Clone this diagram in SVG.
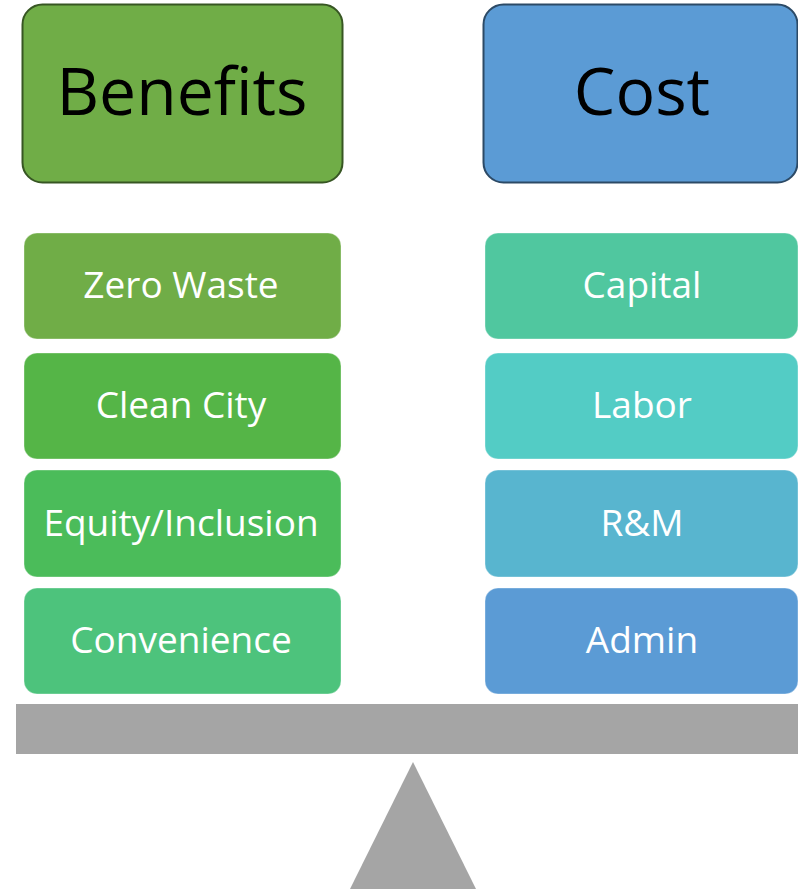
<svg xmlns="http://www.w3.org/2000/svg" width="798" height="889" viewBox="0 0 798 889">
<style>
.hdr{font-family:"Open Sans","Liberation Sans",sans-serif;font-size:66px;fill:#000;text-anchor:middle}
.item{font-family:"Open Sans","Liberation Sans",sans-serif;font-size:37px;fill:#fff;text-anchor:middle}
.box{stroke:#ffffff;stroke-opacity:0.35;stroke-width:1}
</style>
<rect width="798" height="889" fill="#fff"/>
<g id="benefits">
<rect x="22.5" y="4.5" width="320" height="178" rx="20" fill="#70AD47" stroke="#375623" stroke-width="2"/>
<text class="hdr" x="182" y="115">Benefits</text>
</g>
<g id="cost">
<rect x="483.5" y="4.5" width="314" height="178" rx="20" fill="#5B9BD5" stroke="#2C4A66" stroke-width="2"/>
<text class="hdr" x="642" y="115">Cost</text>
</g>
<g id="zero-waste">
<rect class="box" x="24" y="233" width="317" height="106" rx="13" fill="#70AD47"/>
<text class="item" x="181" y="298">Zero Waste</text>
</g>
<g id="clean-city">
<rect class="box" x="24" y="353" width="317" height="106" rx="13" fill="#55B547"/>
<text class="item" x="181" y="418">Clean City</text>
</g>
<g id="equity-inclusion">
<rect class="box" x="24" y="470" width="317" height="107" rx="13" fill="#4BBC5A"/>
<text class="item" x="181" y="536">Equity/Inclusion</text>
</g>
<g id="convenience">
<rect class="box" x="24" y="588" width="317" height="106" rx="13" fill="#4DC37C"/>
<text class="item" x="181" y="653">Convenience</text>
</g>
<g id="capital">
<rect class="box" x="485" y="233" width="313" height="106" rx="13" fill="#50C79F"/>
<text class="item" x="642" y="298">Capital</text>
</g>
<g id="labor">
<rect class="box" x="485" y="353" width="313" height="106" rx="13" fill="#53CCC5"/>
<text class="item" x="642" y="418">Labor</text>
</g>
<g id="rm">
<rect class="box" x="485" y="470" width="313" height="107" rx="13" fill="#58B5CF"/>
<text class="item" x="642" y="536">R&amp;M</text>
</g>
<g id="admin">
<rect class="box" x="485" y="588" width="313" height="106" rx="13" fill="#5B9BD5"/>
<text class="item" x="642" y="653">Admin</text>
</g>
<g id="connectors"></g>
<g id="scale">
<rect x="16" y="704" width="782" height="50" fill="#A5A5A5"/>
<polygon points="413,762 476,889 350,889" fill="#A5A5A5"/>
</g>
</svg>
